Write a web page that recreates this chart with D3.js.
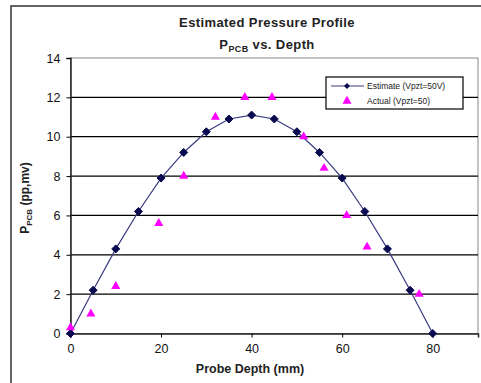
<!DOCTYPE html>
<html>
<head>
<meta charset="utf-8">
<script src="https://cdn.jsdelivr.net/npm/d3@7"></script>
<style>
  body { margin: 0; background: #fff; }
  text { font-family: "Liberation Sans", Arial, sans-serif; }
</style>
</head>
<body>
<script>
// Estimated profile (Vpzt=50V)
const estDepth = [0, 5, 10, 15, 20, 25, 30, 35, 40, 45, 50, 55, 60, 65, 70, 75, 80];
const estP = [0, 2.2, 4.3, 6.2, 7.9, 9.2, 10.25, 10.9, 11.1, 10.9, 10.25, 9.2, 7.9, 6.2, 4.3, 2.2, 0];

// Measured points (Vpzt=50)
const actDepth = [0, 4.5, 10, 19.5, 25, 32, 38.5, 44.5, 51.5, 56, 61, 65.5, 77];
const actP = [0.3, 1.0, 2.4, 5.6, 8.0, 11.0, 12.0, 12.0, 10.0, 8.4, 6.0, 4.4, 2.0];

const xTicks = [0, 20, 40, 60, 80];
const yTicks = [0, 2, 4, 6, 8, 10, 12, 14];

const width = 481, height = 383;
const svg = d3.select("body").append("svg")
    .attr("width", width)
    .attr("height", height);

// outer chart border
svg.append("rect")
    .attr("x", 11).attr("y", 6)
    .attr("width", 480).attr("height", 400)
    .attr("fill", "none").attr("stroke", "#333").attr("stroke-width", 1.5);

const x = d3.scaleLinear().domain([0, 90]).range([70.5, 478]);
const y = d3.scaleLinear().domain([0, 14]).range([333.5, 58]);

// plot area border
svg.append("rect")
    .attr("x", x(0)).attr("y", y(14))
    .attr("width", x(90) - x(0)).attr("height", y(0) - y(14))
    .attr("fill", "none").attr("stroke", "#888").attr("stroke-width", 1);

// gridlines
svg.append("g")
  .selectAll("line")
  .data(yTicks.filter(d => d > 0 && d < 14))
  .join("line")
    .attr("x1", x(0)).attr("x2", x(90))
    .attr("y1", d => y(d)).attr("y2", d => y(d))
    .attr("stroke", "#000").attr("stroke-width", 1.2);

// y axis
const yAxis = svg.append("g")
    .attr("transform", `translate(${x(0)},0)`)
    .call(d3.axisLeft(y).tickValues(yTicks).tickSize(4).tickPadding(6));
yAxis.select(".domain").attr("stroke", "#222").attr("stroke-width", 1.5);
yAxis.selectAll("text").attr("font-size", 12.5).attr("fill", "#111");

// x axis
const xAxis = svg.append("g")
    .attr("transform", `translate(0,${y(0)})`)
    .call(d3.axisBottom(x).tickValues(xTicks).tickSize(4).tickPadding(7));
xAxis.select(".domain").attr("stroke", "#222").attr("stroke-width", 1.5);
xAxis.selectAll("text").attr("font-size", 12.5).attr("fill", "#111");

// estimate line
const line = d3.line().x((d, i) => x(estDepth[i])).y(d => y(d));
svg.append("path")
    .datum(estP)
    .attr("d", line)
    .attr("fill", "none")
    .attr("stroke", "#3a3a80")
    .attr("stroke-width", 1.2);

const diamond = "M0,-4L4,0L0,4L-4,0Z";
const tri = d3.symbol().type(d3.symbolTriangle).size(36);

svg.append("g")
  .selectAll("path")
  .data(estP)
  .join("path")
    .attr("transform", (d, i) => `translate(${x(estDepth[i])},${y(d)})`)
    .attr("d", diamond)
    .attr("fill", "#0a0a50")
    .attr("stroke", "#0a0a50").attr("stroke-width", 1).attr("stroke-linejoin", "round");

svg.append("g")
  .selectAll("path")
  .data(actP)
  .join("path")
    .attr("transform", (d, i) => `translate(${x(actDepth[i])},${y(d)})`)
    .attr("d", tri)
    .attr("fill", "#ff00ff");

// titles
svg.append("text")
    .attr("x", 267).attr("y", 27)
    .attr("text-anchor", "middle")
    .attr("font-size", 13).attr("font-weight", "bold").attr("fill", "#222")
    .attr("letter-spacing", 0.4)
    .text("Estimated Pressure Profile");
const t2 = svg.append("text")
    .attr("x", 267).attr("y", 49)
    .attr("text-anchor", "middle")
    .attr("font-size", 13).attr("font-weight", "bold").attr("fill", "#222")
    .attr("letter-spacing", 0.4);
t2.append("tspan").text("P");
t2.append("tspan").attr("font-size", 9).attr("dy", 3).text("PCB");
t2.append("tspan").attr("dy", -3).text(" vs. Depth");

// axis labels
svg.append("text")
    .attr("x", 250).attr("y", 373)
    .attr("text-anchor", "middle")
    .attr("font-size", 12.5).attr("font-weight", "bold").attr("fill", "#222")
    .text("Probe Depth (mm)");
const yl = svg.append("text")
    .attr("transform", "translate(29,198) rotate(-90)")
    .attr("text-anchor", "middle")
    .attr("font-size", 12).attr("font-weight", "bold").attr("fill", "#222");
yl.append("tspan").text("P");
yl.append("tspan").attr("font-size", 8).attr("dy", 3).text("PCB");
yl.append("tspan").attr("dy", -3).text(" (pp,mv)");

// legend
const lg = svg.append("g").attr("transform", "translate(326,77)");
lg.append("rect")
    .attr("width", 137).attr("height", 32)
    .attr("fill", "#fff").attr("stroke", "#000").attr("stroke-width", 1.2);
lg.append("line")
    .attr("x1", 5).attr("x2", 38).attr("y1", 9).attr("y2", 9)
    .attr("stroke", "#3a3a80").attr("stroke-width", 1.2);
lg.append("path").attr("transform", "translate(21,9) scale(0.75)").attr("d", diamond).attr("fill", "#0a0a50");
lg.append("text").attr("x", 41).attr("y", 12).attr("font-size", 8.5).attr("fill", "#222")
    .text("Estimate (Vpzt=50V)");
lg.append("path").attr("transform", "translate(21,24)").attr("d", tri).attr("fill", "#ff00ff");
lg.append("text").attr("x", 41).attr("y", 27).attr("font-size", 8.5).attr("fill", "#222")
    .text("Actual (Vpzt=50)");
</script>
</body>
</html>
